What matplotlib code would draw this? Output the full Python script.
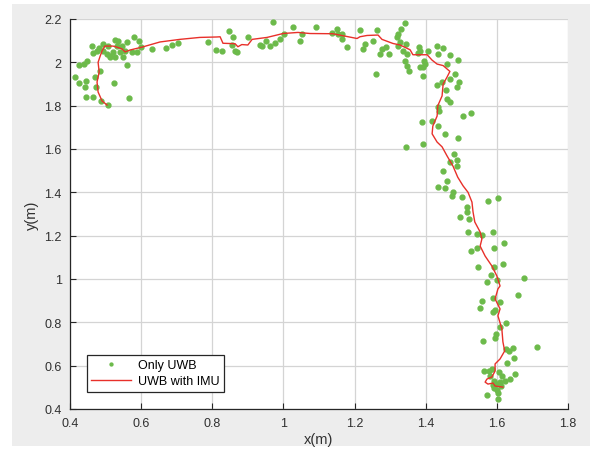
import matplotlib
matplotlib.use("Agg")
import matplotlib.pyplot as plt
from matplotlib.patches import Rectangle

# ---- data: trajectory fused UWB + IMU (red line) ----
imu_x = [0.504, 0.490, 0.479, 0.476, 0.482, 0.479, 0.484, 0.490, 0.498, 0.521, 0.532, 0.546,
         0.555, 0.569, 0.602, 0.653, 0.709, 0.765, 0.813, 0.822, 0.830, 0.864, 0.872, 0.883,
         0.900, 0.912, 0.954, 0.999, 1.041, 1.075, 1.139, 1.207, 1.215, 1.235, 1.266, 1.277,
         1.308, 1.328, 1.356, 1.364, 1.404, 1.418, 1.432, 1.449, 1.468, 1.460, 1.449, 1.446,
         1.434, 1.432, 1.420, 1.418, 1.432, 1.446, 1.460, 1.477, 1.490, 1.505, 1.519, 1.530,
         1.533, 1.538, 1.553, 1.558, 1.553, 1.567, 1.586, 1.600, 1.609, 1.603, 1.595, 1.609,
         1.603, 1.614, 1.617, 1.622, 1.609, 1.595, 1.595, 1.586, 1.572, 1.567, 1.575, 1.589,
         1.595, 1.617]
imu_y = [1.803, 1.822, 1.863, 1.909, 1.955, 2.000, 2.025, 2.052, 2.075, 2.075, 2.070, 2.062,
         2.048, 2.057, 2.070, 2.094, 2.106, 2.115, 2.117, 2.118, 2.088, 2.086, 2.072, 2.082,
         2.080, 2.106, 2.115, 2.133, 2.138, 2.133, 2.132, 2.110, 2.118, 2.124, 2.126, 2.106,
         2.087, 2.080, 2.058, 2.035, 2.035, 2.010, 1.992, 1.985, 1.958, 1.932, 1.900, 1.845,
         1.800, 1.752, 1.706, 1.670, 1.632, 1.610, 1.568, 1.520, 1.470, 1.430, 1.400, 1.355,
         1.310, 1.263, 1.217, 1.185, 1.152, 1.106, 1.060, 1.014, 0.968, 0.954, 0.908, 0.862,
         0.830, 0.770, 0.710, 0.668, 0.631, 0.608, 0.575, 0.548, 0.538, 0.524, 0.515, 0.520,
         0.506, 0.501]

# ---- data: raw UWB positions (green dots) ----
uwb_x = [
    # left cluster
    0.414, 0.425, 0.439, 0.448, 0.425, 0.445, 0.442, 0.445, 0.465, 0.470, 0.473, 0.484,
    0.487, 0.507, 0.524, 0.566, 0.560, 0.462, 0.465, 0.476, 0.482, 0.493, 0.504, 0.512,
    0.521, 0.527, 0.535, 0.532, 0.546, 0.541, 0.549, 0.560, 0.555, 0.574, 0.580, 0.594,
    0.588, 0.600, 0.631, 0.670, 0.687, 0.704, 0.507, 0.493, 0.527, 0.512,
    # top middle
    0.788, 0.810, 0.827, 0.847, 0.858, 0.855, 0.864, 0.869, 0.900, 0.934, 0.940, 0.951,
    0.962, 0.971, 0.976, 0.990, 1.002, 1.027, 1.047, 1.052,
    # top right
    1.092, 1.137, 1.151, 1.153, 1.165, 1.165, 1.179, 1.215, 1.229, 1.224, 1.252, 1.263,
    1.260, 1.277, 1.271, 1.288, 1.297, 1.319, 1.322, 1.331, 1.342, 1.328, 1.322, 1.345,
    1.336, 1.347, 1.342, 1.347, 1.353, 1.381, 1.384, 1.378, 1.398, 1.392, 1.384, 1.392,
    1.406, 1.395,
    # corner and upper descent
    1.460, 1.482, 1.494, 1.468, 1.432, 1.446, 1.457, 1.488, 1.460, 1.468, 1.435, 1.437,
    1.390, 1.418, 1.505, 1.527, 1.435, 1.454, 1.491, 1.345, 1.392, 1.480, 1.488, 1.488,
    1.468, 1.449, 1.460, 1.435, 1.454, 1.432, 1.449, 1.435, 1.468, 1.491,
    # lower descent
    1.477, 1.474, 1.502, 1.575, 1.603, 1.516, 1.516, 1.496, 1.522, 1.519, 1.544, 1.558,
    1.589, 1.527, 1.544, 1.592, 1.620, 1.547, 1.592, 1.617, 1.583, 1.600, 1.572, 1.676,
    1.659, 1.589, 1.558, 1.553, 1.609, 1.589, 1.595, 1.626, 1.609, 1.598, 1.595, 1.561,
    1.626, 1.634, 1.645, 1.648, 1.713, 1.628, 1.564, 1.578, 1.586, 1.606, 1.614, 1.651,
    1.637, 1.623, 1.609, 1.589, 1.592, 1.600, 1.603, 1.572, 1.603, 1.592, 1.581, 1.598,
    1.612]
uwb_y = [
    1.932, 1.988, 1.992, 2.006, 1.905, 1.914, 1.886, 1.840, 1.840, 1.932, 1.886, 1.960,
    1.822, 1.803, 1.905, 1.835, 1.988, 2.075, 2.043, 2.052, 2.066, 2.052, 2.038, 2.029,
    2.048, 2.103, 2.098, 2.075, 2.075, 2.048, 2.025, 2.094, 2.052, 2.048, 2.117, 2.098,
    2.048, 2.071, 2.062, 2.066, 2.080, 2.089, 2.075, 2.085, 2.025, 2.025,
    2.094, 2.057, 2.052, 2.145, 2.117, 2.080, 2.052, 2.048, 2.117, 2.080, 2.075, 2.098,
    2.075, 2.186, 2.089, 2.108, 2.131, 2.163, 2.098, 2.131,
    2.163, 2.135, 2.154, 2.131, 2.131, 2.108, 2.071, 2.149, 2.085, 2.062, 2.098, 2.149,
    1.946, 2.062, 2.038, 2.071, 2.038, 2.117, 2.131, 2.154, 2.182, 2.094, 2.075, 2.085,
    2.052, 2.038, 2.006, 1.983, 1.960, 2.071, 2.052, 2.043, 1.992, 1.978, 1.978, 1.937,
    2.052, 2.006,
    1.992, 1.946, 1.909, 1.923, 1.895, 1.909, 1.872, 1.886, 1.831, 1.817, 1.794, 1.775,
    1.725, 1.729, 1.752, 1.766, 1.706, 1.669, 1.651, 1.609, 1.623, 1.577, 1.549, 1.522,
    1.540, 1.498, 1.452, 1.425, 1.420, 2.075, 2.066, 2.038, 2.034, 2.011,
    1.402, 1.383, 1.378, 1.360, 1.374, 1.332, 1.309, 1.286, 1.277, 1.217, 1.208, 1.203,
    1.217, 1.129, 1.143, 1.143, 1.166, 1.055, 1.055, 1.069, 1.018, 0.995, 0.986, 1.005,
    0.926, 0.912, 0.898, 0.866, 0.894, 0.848, 0.857, 0.797, 0.778, 0.746, 0.728, 0.714,
    0.677, 0.668, 0.682, 0.635, 0.686, 0.612, 0.575, 0.575, 0.585, 0.571, 0.552, 0.562,
    0.538, 0.529, 0.525, 0.511, 0.497, 0.488, 0.474, 0.465, 0.446, 0.529, 0.552, 0.515,
    0.506]

xticks = [0.4, 0.6, 0.8, 1.0, 1.2, 1.4, 1.6, 1.8]
xtick_labels = ["0.4", "0.6", "0.8", "1", "1.2", "1.4", "1.6", "1.8"]
yticks = [0.4, 0.6, 0.8, 1.0, 1.2, 1.4, 1.6, 1.8, 2.0, 2.2]
ytick_labels = ["0.4", "0.6", "0.8", "1", "1.2", "1.4", "1.6", "1.8", "2", "2.2"]

plt.rcParams['font.family'] = ['Liberation Sans', 'DejaVu Sans']

fig = plt.figure(figsize=(5.9, 4.6), dpi=100, facecolor='white')
bg = Rectangle((12 / 590, 13 / 460), 1 - 12 / 590, 1 - 5 / 460 - 13 / 460,
               transform=fig.transFigure, facecolor='#ededed',
               edgecolor='none', zorder=-10)
fig.add_artist(bg)
ax = fig.add_axes([70 / 590, 1 - 410 / 460, (568 - 70) / 590, (410 - 20) / 460])
ax.set_zorder(1)
ax.set_facecolor('white')

ax.plot(uwb_x, uwb_y, linestyle='none', marker='o', markersize=3.5,
        markerfacecolor='#6cba4a', markeredgecolor='#6cba4a', label='Only UWB', zorder=3)
ax.plot(imu_x, imu_y, color='#e8302a', linewidth=1.0, label='UWB with IMU', zorder=4)

ax.set_xlim(0.4, 1.8)
ax.set_ylim(0.4, 2.2)
ax.set_xticks(xticks)
ax.set_xticklabels(xtick_labels)
ax.set_yticks(yticks)
ax.set_yticklabels(ytick_labels)
ax.grid(True, color='#d4d4d4', linewidth=0.9)
ax.set_axisbelow(True)
for s in ['top', 'right']:
    ax.spines[s].set_visible(False)
for s in ['left', 'bottom']:
    ax.spines[s].set_color('#262626')
    ax.spines[s].set_linewidth(0.9)
ax.tick_params(direction='in', length=4, width=0.8, colors='#262626',
               labelsize=9, labelcolor='#303030', pad=6)
ax.set_xlabel('x(m)', fontsize=10.5, color='#303030', labelpad=2)
ax.set_ylabel('y(m)', fontsize=10.5, color='#303030', labelpad=4)

leg = ax.legend(loc='lower left', bbox_to_anchor=(0.034, 0.044), borderaxespad=0,
                fontsize=9, frameon=True, fancybox=False, edgecolor='#262626',
                framealpha=1, markerscale=0.6, handlelength=3.2, borderpad=0.35,
                labelspacing=0.35, handletextpad=0.5)
leg.get_frame().set_linewidth(0.9)

fig.savefig('out.png', dpi=100, facecolor=fig.get_facecolor())
